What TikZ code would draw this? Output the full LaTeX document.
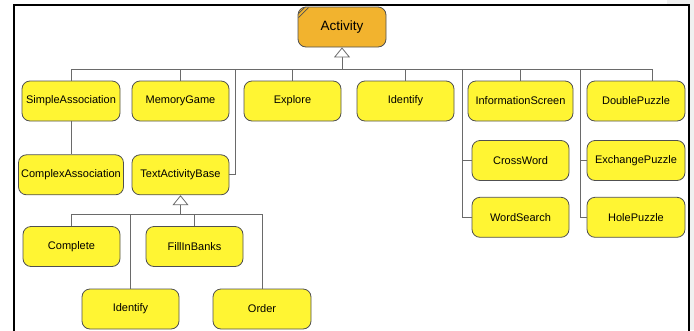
\documentclass[tikz,border=0pt]{standalone}
\usepackage{fontspec}
\setmainfont{Liberation Sans}
\usetikzlibrary{positioning,arrows.meta}

\definecolor{clsfill}{HTML}{FFF533}
\definecolor{rootfill}{HTML}{F2B32E}
\definecolor{clsline}{HTML}{505050}
\definecolor{wire}{HTML}{6A6A6A}
\definecolor{side}{HTML}{F0F0F0}

\tikzset{
	cls/.style={draw=clsline, fill=clsfill, rounded corners=8pt, line width=0.8pt,
		minimum height=40pt, minimum width=97pt, inner sep=0pt, font=\fontsize{11}{13}\selectfont},
	root/.style={cls, fill=rootfill, minimum width=88pt, font=\fontsize{13.5}{15}\selectfont},
	link/.style={draw=wire, line width=0.8pt},
	gen/.style={link, -{Triangle[open, width=16pt, length=10pt, fill=white]}},
}

\begin{document}
\begin{tikzpicture}[x=1pt, y=-1pt]
	\useasboundingbox (0,0) rectangle (694,330);
	% window frame
	\fill[side] (667,0) rectangle (694,5);
	\fill[side] (690,0) rectangle (694,330);
	\draw[line width=1.6pt] (14,332) -- (14,5) -- (689,5) -- (689,332);

	% classes
	\node[root] (activity) at (342,27) {Activity};
	\node[cls, minimum width=98pt] (simple) at (71,101) {SimpleAssociation};
	\node[cls] (memory) at (180.5,101) {MemoryGame};
	\node[cls] (explore) at (292.5,101) {Explore};
	\node[cls] (identA) at (405.5,101) {Identify};
	\node[cls, minimum width=105pt] (info) at (520.5,101) {InformationScreen};
	\node[cls, minimum width=98pt] (double) at (636,101) {DoublePuzzle};
	\node[cls, minimum width=105pt, below=33pt of simple] (complex) {ComplexAssociation};
	\node[cls, below=33pt of memory] (textbase) {TextActivityBase};
	\node[cls] (crossword) at (520.5,160.5) {CrossWord};
	\node[cls, below=16pt of crossword] (wordsearch) {WordSearch};
	\node[cls, minimum width=98pt] (exchange) at (636,160.5) {ExchangePuzzle};
	\node[cls, minimum width=98pt, below=16pt of exchange] (hole) {HolePuzzle};
	\node[cls] (complete) at (71.5,246.5) {Complete};
	\node[cls] (fillin) at (194.5,246.5) {FillInBanks};
	\node[cls] (identB) at (130.5,309) {Identify};
	\node[cls, minimum width=98pt] (order) at (262,309) {Order};

	% corner mark on Activity
	\draw[clsline, line width=0.7pt] ([xshift=1pt,yshift=-7pt]activity.north west) -- ([xshift=7pt,yshift=-1pt]activity.north west);
	\draw[clsline, line width=0.7pt] ([xshift=1pt,yshift=-11pt]activity.north west) -- ([xshift=11pt,yshift=-1pt]activity.north west);

	% inheritance from Activity
	\coordinate (bus) at (342,69);
	\coordinate (tstub) at (235,69);
	\coordinate (istub) at (462,69);
	\coordinate (pstub) at (580,69);
	\coordinate (dstub) at (652,69);
	\foreach \n in {simple,memory,explore,identA,info}
		\draw[link] (\n.north) |- (bus);
	\draw[link] (dstub |- double.north) -- (dstub) -- (bus);
	\draw[link] (textbase.east) -| (tstub);
	\draw[link] (crossword.west) -| (istub);
	\draw[link] (wordsearch.west) -| (istub);
	\draw[link] (exchange.west) -| (pstub);
	\draw[link] (hole.west) -| (pstub);
	\draw[link] (simple.south) -- (complex.north);
	\draw[gen] (bus) -- (activity.south);

	% inheritance from TextActivityBase
	\coordinate (bus2) at (180.5,214);
	\foreach \n in {complete,fillin,identB,order}
		\draw[link] (\n.north) |- (bus2);
	\draw[gen] (bus2) -- (textbase.south);
\end{tikzpicture}
\end{document}
